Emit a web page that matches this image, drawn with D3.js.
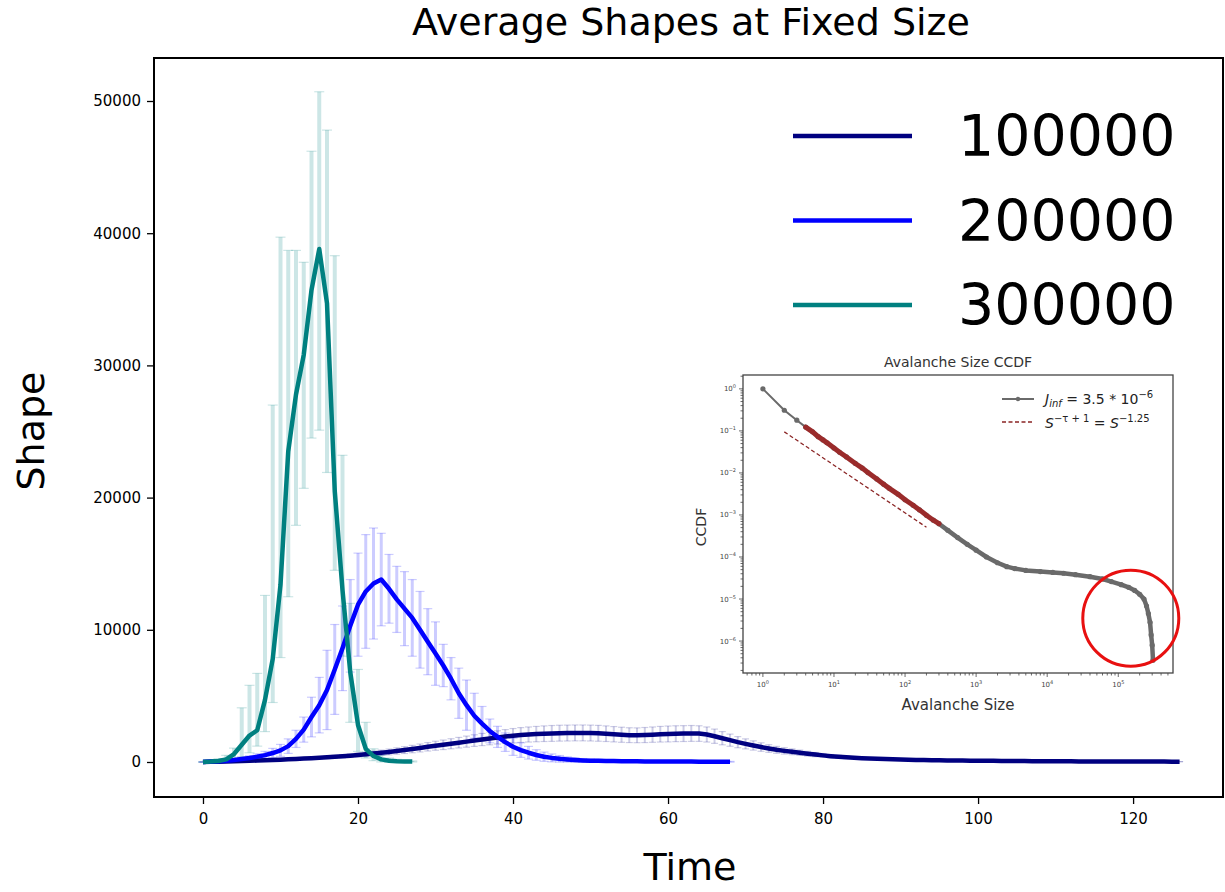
<!DOCTYPE html>
<html>
<head>
<meta charset="utf-8">
<script src="https://cdn.jsdelivr.net/npm/d3@7"></script>
<style>
  body { margin: 0; background: #fff; }
  svg { display: block; font-family: "DejaVu Sans", sans-serif; }
</style>
</head>
<body>
<svg id="chart" width="1225" height="892"></svg>
<script>
// ---- main chart data (one value per integer time step) ----
const sizeNames = ['100000', '200000', '300000']
const sizeColors = ['navy', 'blue', 'teal']

const navyMean = [
  0, 10, 25, 40, 55, 70, 90, 110, 130, 150,
  175, 200, 230, 260, 290, 320, 350, 390, 430, 480,
  530, 580, 640, 700, 760, 830, 900, 980, 1060, 1150,
  1230, 1300, 1380, 1460, 1540, 1620, 1700, 1780, 1860, 1930,
  1990, 2040, 2080, 2110, 2140, 2160, 2180, 2190, 2200, 2200,
  2190, 2170, 2140, 2100, 2060, 2030, 2020, 2040, 2070, 2100,
  2120, 2140, 2150, 2160, 2150, 2080, 1950, 1800, 1650, 1500,
  1370, 1250, 1130, 1020, 920, 840, 770, 700, 630, 560,
  500, 440, 390, 350, 315, 285, 260, 240, 220, 200,
  185, 170, 160, 150, 140, 130, 122, 115, 108, 100,
  95, 90, 85, 80, 76, 72, 68, 64, 60, 57,
  54, 51, 48, 45, 43, 41, 39, 37, 35, 33,
  32, 31, 30, 29, 28, 27, 26
]
const navySd = [
  0, 5, 10, 15, 20, 25, 30, 35, 40, 45,
  50, 55, 60, 70, 80, 90, 100, 110, 120, 135,
  150, 165, 180, 200, 220, 240, 260, 280, 300, 320,
  340, 360, 380, 400, 420, 440, 460, 480, 500, 520,
  540, 560, 570, 580, 590, 600, 600, 600, 600, 600,
  600, 600, 590, 580, 570, 560, 560, 570, 580, 590,
  600, 600, 600, 600, 590, 570, 540, 500, 460, 420,
  380, 350, 320, 290, 260, 240, 220, 200, 180, 160,
  140, 125, 110, 100, 90, 80, 70, 65, 60, 55,
  50, 45, 40, 38, 36, 34, 32, 30, 28, 26,
  24, 22, 20, 19, 18, 17, 16, 15, 14, 13,
  12, 11, 10, 10, 9, 9, 8, 8, 7, 7,
  6, 6, 5, 5, 5, 4, 4
]

const blueMean = [
  0, 30, 60, 100, 150, 220, 300, 400, 520, 680,
  880, 1200, 1750, 2450, 3400, 4300, 5450, 7000, 8600, 10300,
  11900, 12900, 13500, 13800, 13100, 12300, 11600, 10900, 10000, 9100,
  8200, 7300, 6300, 5200, 4300, 3500, 2900, 2350, 1900, 1500,
  1150, 900, 700, 530, 400, 310, 240, 190, 150, 120,
  100, 90, 80, 70, 60, 55, 50, 45, 40, 38,
  35, 32, 30, 28, 25, 22, 20, 18, 15
]
const blueSd = [
  0, 20, 40, 60, 90, 130, 170, 220, 280, 350,
  450, 550, 650, 950, 1500, 2100, 3000, 3400, 3200, 3500,
  3900, 4300, 4200, 3500, 2600, 2500, 2800, 2900, 2900, 2500,
  2400, 1600, 1600, 1900, 1900, 1700, 1300, 900, 800, 700,
  650, 550, 480, 400, 350, 300, 250, 200, 170, 140,
  120, 110, 100, 95, 90, 85, 80, 75, 70, 65,
  60, 55, 50, 45, 40, 38, 35, 32, 30
]

const tealMean = [
  0, 30, 80, 200, 600, 1300, 2000, 2400, 4700, 7800,
  13400, 23500, 27800, 30800, 35700, 38800, 34700, 20500, 13000, 6800,
  2800, 1000, 450, 200, 100, 60, 40, 30
]
const tealLow = [
  0, 0, 0, 0, 200, 400, 700, 1200, 2300, 4500,
  7900, 12500, 17900, 20700, 24500, 25100, 21900, 14500, 8000, 3000,
  800, 300, 100, 0, 0, 0, 0, 0
]
const tealHigh = [
  0, 100, 250, 500, 1050, 4100, 5800, 6700, 12600, 27000,
  39700, 38700, 38700, 37800, 46200, 50700, 47800, 38300, 23200, 12000,
  7000, 3000, 1000, 500, 300, 200, 100, 80
]

const timeTicks = [0, 20, 40, 60, 80, 100, 120]
const shapeTicks = [0, 10000, 20000, 30000, 40000, 50000]

// ---- inset: avalanche size CCDF ----
const ccdfSize = [1, 2, 3, 4, 5, 6, 7, 8, 10, 12, 15, 20, 25, 30, 40, 50, 60, 80, 100, 130,
  160, 200, 250, 300, 400, 550, 750, 1000, 1400, 2000, 2700, 3500, 5000, 8000, 12000, 17000,
  25000, 40000, 60000, 80000, 110000, 140000, 170000, 200000, 230000, 250000, 265000, 280000,
  290000, 300000, 308000]
const ccdfValue = [1, 0.31, 0.18, 0.123, 0.095, 0.073, 0.061, 0.052, 0.039, 0.031, 0.024, 0.0168,
  0.013, 0.0102, 0.0072, 0.0054, 0.0043, 0.0031, 0.0023, 0.0017, 0.00132, 0.00098, 0.00075,
  0.00062, 0.00043, 0.00029, 0.0002, 0.000145, 0.0001, 0.000073, 0.000059, 0.000053, 0.000048,
  0.000045, 0.000043, 0.000041, 0.000038, 0.000034, 0.00003, 0.000026, 0.000022, 0.000019,
  0.000016, 0.000013, 0.00001, 0.0000068, 0.0000045, 0.0000028, 0.0000014, 0.0000008, 0.00000035]
const fitRange = [4, 300]
const powerLawSize = [2, 200]
const powerLawValue = [0.095, 0.00051]
const ccdfXTicks = [0, 1, 2, 3, 4, 5]
const ccdfYTicks = [0, -1, -2, -3, -4, -5, -6]
const cutoffSize = 150000
const cutoffValue = 0.0000035

// ---- layout ----
const frame = { left: 154, right: 1223, top: 58, bottom: 797 }
const svg = d3.select('#chart')

const x = d3.scaleLinear().domain([-6.32, 131.6]).range([frame.left, frame.right])
const y = d3.scaleLinear().domain([-2648, 53253]).range([frame.bottom, frame.top])

const series = [
  { name: sizeNames[0], color: sizeColors[0], mean: navyMean,
    lo: navyMean.map((m, i) => m - navySd[i]), hi: navyMean.map((m, i) => m + navySd[i]), ew: 2, cap: 7 },
  { name: sizeNames[1], color: sizeColors[1], mean: blueMean,
    lo: blueMean.map((m, i) => m - blueSd[i]), hi: blueMean.map((m, i) => m + blueSd[i]), ew: 3, cap: 9 },
  { name: sizeNames[2], color: sizeColors[2], mean: tealMean, lo: tealLow, hi: tealHigh, ew: 4, cap: 10 }
]

svg.append('defs').append('clipPath').attr('id', 'plotclip')
  .append('rect')
  .attr('x', frame.left).attr('y', frame.top)
  .attr('width', frame.right - frame.left).attr('height', frame.bottom - frame.top)

const plot = svg.append('g').attr('clip-path', 'url(#plotclip)')

// error bars first, then the mean lines on top
series.forEach(s => {
  const g = plot.append('g')
    .attr('stroke', s.color)
    .attr('stroke-opacity', 0.2)
  s.mean.forEach((m, i) => {
    g.append('line')
      .attr('x1', x(i)).attr('x2', x(i))
      .attr('y1', y(s.lo[i])).attr('y2', y(s.hi[i]))
      .attr('stroke-width', s.ew)
    g.append('line')
      .attr('x1', x(i) - s.cap / 2).attr('x2', x(i) + s.cap / 2)
      .attr('y1', y(s.hi[i])).attr('y2', y(s.hi[i]))
      .attr('stroke-width', 1.2)
    g.append('line')
      .attr('x1', x(i) - s.cap / 2).attr('x2', x(i) + s.cap / 2)
      .attr('y1', y(s.lo[i])).attr('y2', y(s.lo[i]))
      .attr('stroke-width', 1.2)
  })
})

const line = d3.line().x((d, i) => x(i)).y(d => y(d))
series.forEach(s => {
  plot.append('path')
    .datum(s.mean)
    .attr('d', line)
    .attr('fill', 'none')
    .attr('stroke', s.color)
    .attr('stroke-width', 4.5)
    .attr('stroke-linejoin', 'round')
})

// axes
const xAxis = svg.append('g')
  .attr('transform', 'translate(0,' + frame.bottom + ')')
  .call(d3.axisBottom(x).tickValues(timeTicks).tickSize(7).tickPadding(9))
const yAxis = svg.append('g')
  .attr('transform', 'translate(' + frame.left + ',0)')
  .call(d3.axisLeft(y).tickValues(shapeTicks).tickFormat(d3.format('d')).tickSize(7).tickPadding(6))
;[xAxis, yAxis].forEach(a => {
  a.select('.domain').remove()
  a.selectAll('.tick line').attr('stroke', '#000').attr('stroke-width', 1.3)
  a.selectAll('.tick text').attr('fill', '#000').attr('font-size', 15)
    .attr('font-family', '"DejaVu Sans", sans-serif')
})

svg.append('rect')
  .attr('x', frame.left).attr('y', frame.top)
  .attr('width', frame.right - frame.left).attr('height', frame.bottom - frame.top)
  .attr('fill', 'none').attr('stroke', '#000').attr('stroke-width', 2)

svg.append('text')
  .text('Average Shapes at Fixed Size')
  .attr('x', 691).attr('y', 35)
  .attr('text-anchor', 'middle')
  .attr('font-size', 38)
svg.append('text')
  .text('Time')
  .attr('x', 690).attr('y', 880)
  .attr('text-anchor', 'middle')
  .attr('font-size', 38)
svg.append('text')
  .text('Shape')
  .attr('transform', 'translate(44,431) rotate(-90)')
  .attr('text-anchor', 'middle')
  .attr('font-size', 38)

// legend
const legend = svg.append('g')
series.forEach((s, i) => {
  const ly = 136 + i * 84.5
  legend.append('line')
    .attr('x1', 793).attr('x2', 912)
    .attr('y1', ly).attr('y2', ly)
    .attr('stroke', s.color).attr('stroke-width', 4.5)
  legend.append('text')
    .text(s.name)
    .attr('x', 958).attr('y', ly + 20)
    .attr('font-size', 57)
})

// ---- inset ----
const inset = { left: 743, right: 1173, top: 375, bottom: 673 }
const ix = d3.scaleLog().domain([Math.pow(10, -0.28), Math.pow(10, 5.77)]).range([inset.left, inset.right])
const iy = d3.scaleLog().domain([Math.pow(10, -6.76), Math.pow(10, 0.33)]).range([inset.bottom, inset.top])
const ig = svg.append('g')

ig.append('rect')
  .attr('x', 690).attr('y', 345).attr('width', 500).attr('height', 372)
  .attr('fill', '#fff')

ig.append('rect')
  .attr('x', inset.left).attr('y', inset.top)
  .attr('width', inset.right - inset.left).attr('height', inset.bottom - inset.top)
  .attr('fill', 'none').attr('stroke', '#444').attr('stroke-width', 1.3)

// minor + major ticks
ccdfXTicks.concat([6]).forEach(k => {
  d3.range(1, 10).forEach(m => {
    const v = m * Math.pow(10, k - 1)
    const px = ix(v)
    if (px < inset.left || px > inset.right) return
    ig.append('line')
      .attr('x1', px).attr('x2', px)
      .attr('y1', inset.bottom).attr('y2', inset.bottom + (m === 1 ? 4 : 2.5))
      .attr('stroke', '#444').attr('stroke-width', 0.8)
  })
})
ccdfYTicks.concat([-7]).forEach(k => {
  d3.range(1, 10).forEach(m => {
    const v = m * Math.pow(10, k)
    const py = iy(v)
    if (py < inset.top || py > inset.bottom) return
    ig.append('line')
      .attr('x1', inset.left - (m === 1 ? 4 : 2.5)).attr('x2', inset.left)
      .attr('y1', py).attr('y2', py)
      .attr('stroke', '#444').attr('stroke-width', 0.8)
  })
})

const powLabel = (sel, k) => {
  sel.append('tspan').text('10')
  sel.append('tspan').text(String(k).replace('-', '\u2212'))
    .attr('dy', -3).attr('font-size', 5)
}
ccdfXTicks.forEach(k => {
  const t = ig.append('text')
    .attr('x', ix(Math.pow(10, k))).attr('y', inset.bottom + 14)
    .attr('text-anchor', 'middle').attr('font-size', 7).attr('fill', '#444')
  powLabel(t, k)
})
ccdfYTicks.forEach(k => {
  const t = ig.append('text')
    .attr('x', inset.left - 7).attr('y', iy(Math.pow(10, k)) + 2.5)
    .attr('text-anchor', 'end').attr('font-size', 7).attr('fill', '#444')
  powLabel(t, k)
})

ig.append('text').text('Avalanche Size CCDF')
  .attr('x', 958).attr('y', 367)
  .attr('text-anchor', 'middle').attr('font-size', 14).attr('fill', '#333')
ig.append('text').text('Avalanche Size')
  .attr('x', 958).attr('y', 710)
  .attr('text-anchor', 'middle').attr('font-size', 15).attr('fill', '#333')
ig.append('text').text('CCDF')
  .attr('transform', 'translate(706,527) rotate(-90)')
  .attr('text-anchor', 'middle').attr('font-size', 14).attr('fill', '#333')

const ccdfPoints = ccdfSize.map((s, i) => ({ s, v: ccdfValue[i] }))
const iline = d3.line().x(d => ix(d.s)).y(d => iy(d.v))

ig.append('path')
  .datum(ccdfPoints)
  .attr('d', iline)
  .attr('fill', 'none').attr('stroke', '#6a6a6a').attr('stroke-width', 2)
// the tail is so densely sampled that markers merge into a thick band
ig.append('path')
  .datum(ccdfPoints.filter(d => d.s >= fitRange[1]))
  .attr('d', iline)
  .attr('fill', 'none').attr('stroke', '#6a6a6a').attr('stroke-width', 4.5)
  .attr('stroke-linejoin', 'round').attr('stroke-linecap', 'round')
ig.selectAll('circle.pt')
  .data(ccdfPoints)
  .enter().append('circle')
  .attr('class', 'pt')
  .attr('cx', d => ix(d.s)).attr('cy', d => iy(d.v))
  .attr('r', 2.6).attr('fill', '#6a6a6a')

ig.append('path')
  .datum(ccdfPoints.filter(d => d.s >= fitRange[0] && d.s <= fitRange[1]))
  .attr('d', iline)
  .attr('fill', 'none').attr('stroke', '#9a2b2b').attr('stroke-width', 5)
  .attr('stroke-linecap', 'round')

ig.append('path')
  .datum(powerLawSize.map((s, i) => ({ s, v: powerLawValue[i] })))
  .attr('d', iline)
  .attr('fill', 'none').attr('stroke', '#8b2525').attr('stroke-width', 1.3)
  .attr('stroke-dasharray', '4,2.5')

ig.append('circle')
  .attr('cx', ix(cutoffSize)).attr('cy', iy(cutoffValue))
  .attr('r', 48)
  .attr('fill', 'none').attr('stroke', '#e81010').attr('stroke-width', 3)

// inset legend
ig.append('line').attr('x1', 1002).attr('x2', 1034).attr('y1', 399).attr('y2', 399)
  .attr('stroke', '#6a6a6a').attr('stroke-width', 2)
ig.append('circle').attr('cx', 1018).attr('cy', 399).attr('r', 2.2).attr('fill', '#6a6a6a')
ig.append('line').attr('x1', 1002).attr('x2', 1034).attr('y1', 422).attr('y2', 422)
  .attr('stroke', '#8b2525').attr('stroke-width', 1.3).attr('stroke-dasharray', '4,2.5')

const l1 = ig.append('text').attr('x', 1045).attr('y', 404).attr('font-size', 14).attr('fill', '#222')
l1.append('tspan').text('J').attr('font-style', 'italic')
l1.append('tspan').text('inf').attr('font-style', 'italic').attr('font-size', 10).attr('dy', 3)
l1.append('tspan').text(' = 3.5 * 10').attr('dy', -3)
l1.append('tspan').text('\u22126').attr('font-size', 10).attr('dy', -6)

const l2 = ig.append('text').attr('x', 1045).attr('y', 428).attr('font-size', 14).attr('fill', '#222')
l2.append('tspan').text('S').attr('font-style', 'italic')
l2.append('tspan').text('\u2212\u03c4 + 1').attr('font-size', 10).attr('dy', -6)
l2.append('tspan').text(' = ').attr('dy', 6)
l2.append('tspan').text('S').attr('font-style', 'italic')
l2.append('tspan').text('\u22121.25').attr('font-size', 10).attr('dy', -6)
</script>
</body>
</html>
